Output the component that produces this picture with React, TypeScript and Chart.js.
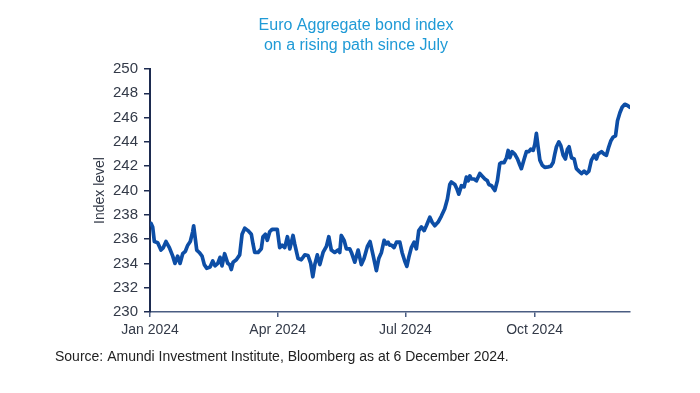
import { useEffect, useRef } from "react";
import { Chart, registerables } from "chart.js";

Chart.register(...registerables);

const titleLines = ["Euro Aggregate bond index", "on a rising path since July"];
const sourceText = "Source: Amundi Investment Institute, Bloomberg as at 6 December 2024.";
const yAxisTitle = "Index level";

const tickDays = [0, 91, 182, 274];
const tickLabels = ["Jan 2024", "Apr 2024", "Jul 2024", "Oct 2024"];

// day of year 2024 (0 = 1 Jan)
const dayOfYear = [
  0.7, 1.9, 3.1, 5.5, 7.8, 9.5, 11.4, 13.8, 16.2, 17.8, 19.7, 21.4, 23.3, 25.2, 26.9, 28.7, 30.4, 31.1,
  32.1, 33.3, 35.1, 37.1, 38.7, 40.4, 42.8, 44.7, 46.3, 48.3, 49.9, 51.3, 53.2, 55.4, 56.8, 57.9, 59.2,
  61.5, 63.9, 65.6, 67.5, 69.8, 72.2, 73.4, 74.6, 77.0, 79.3, 80.5, 82.2, 83.6, 85.3, 87.0, 88.9, 90.7,
  92.4, 94.1, 96.0, 97.9, 99.6, 101.9, 103.1, 105.5, 107.8, 110.3, 112.6, 114.5, 116.0, 117.4, 119.2,
  121.0, 123.3, 125.7, 127.4, 129.2, 131.6, 134.0, 135.2, 136.3, 138.3, 139.9, 142.3, 143.5, 145.9,
  148.3, 150.6, 152.5, 154.9, 156.8, 158.9, 161.3, 163.0, 164.9, 166.8, 168.4, 169.6, 170.8, 172.0,
  173.9, 175.6, 178.0, 179.6, 181.5, 183.0, 184.4, 186.2, 188.2, 189.8, 191.5, 193.4, 195.3, 196.9,
  199.4, 201.0, 202.9, 205.3, 207.6, 210.0, 211.9, 213.6, 214.7, 217.2, 218.8, 220.0, 221.9, 223.8,
  225.4, 226.7, 227.9, 229.0, 230.9, 232.6, 235.0, 236.6, 238.6, 240.4, 241.4, 243.3, 245.7, 247.5,
  249.2, 250.4, 252.3, 254.0, 255.2, 256.4, 258.0, 259.9, 261.8, 263.5, 264.6, 266.6, 268.2, 269.9,
  271.3, 273.0, 274.2, 275.3, 276.5, 277.8, 279.4, 281.3, 283.7, 285.6, 287.2, 288.4, 289.6, 291.3,
  292.7, 294.4, 296.0, 297.4, 298.6, 300.3, 302.2, 303.8, 305.6, 307.4, 309.3, 311.0, 312.7, 314.5,
  316.5, 318.1, 319.3, 321.7, 323.6, 325.2, 326.9, 328.4, 330.0, 331.7, 333.1, 334.8, 336.4, 338.3,
  340.2, 341.9,
];

const indexLevel = [
  237.3, 237.0, 235.8, 235.7, 235.1, 235.3, 235.8, 235.3, 234.6, 234.0, 234.6, 234.0, 234.8, 235.0, 235.5, 235.8, 236.6, 237.1,
  236.2, 235.1, 234.9, 234.6, 233.9, 233.6, 233.7, 234.2, 233.8, 234.0, 234.5, 233.8, 234.8, 234.0, 233.9, 233.5, 234.1,
  234.3, 234.7, 236.4, 236.9, 236.7, 236.4, 235.6, 234.9, 234.9, 235.2, 236.2, 236.4, 235.9, 236.6, 236.8, 236.8, 236.8,
  235.3, 235.5, 235.3, 236.2, 235.2, 236.3, 235.6, 234.4, 234.3, 234.7, 234.65, 234.0, 232.9, 233.9, 234.7,
  233.9, 234.9, 235.4, 236.2, 235.1, 234.9, 235.1, 234.9, 236.3, 235.9, 235.2, 235.2, 234.9, 234.1,
  235.1, 233.9, 234.4, 235.4, 235.8, 234.7, 233.4, 234.4, 234.9, 235.9, 235.6, 235.75, 235.5, 235.5,
  235.3, 235.75, 235.75, 234.9, 234.2, 233.75, 234.5, 235.3, 235.75, 235.2, 236.7, 237.0, 236.7, 237.1,
  237.8, 237.4, 237.1, 237.4, 237.9, 238.5, 239.3, 240.5, 240.7, 240.5, 240.1, 239.7, 240.4, 240.3,
  241.1, 240.8, 241.2, 240.95, 240.95, 240.8, 241.4, 241.2, 240.95, 240.8, 240.5, 240.4, 240.0, 240.8,
  242.2, 242.3, 242.3, 242.7, 243.3, 242.7, 243.2, 243.0, 242.6, 242.1, 241.8, 242.6, 243.2, 243.2,
  243.4, 243.3, 243.8, 244.7, 243.6, 242.5, 242.1, 241.9, 241.95, 242.0, 242.3, 243.0, 243.6, 244.0,
  243.7, 242.9, 242.6, 243.4, 243.6, 242.7, 242.6, 241.8, 241.6, 241.4, 241.6, 241.4, 241.6, 242.5,
  242.9, 242.6, 243.0, 243.2, 243.0, 242.9, 243.6, 244.1, 244.4, 244.5, 245.75, 246.4, 246.85, 247.1,
  247.0, 246.85,
];

const FONT = "'Liberation Sans', Arial, Helvetica, sans-serif";
const LABEL_COLOR = "#333a48";
const Y_AXIS_COLOR = "#1d2b50";
const X_AXIS_COLOR = "#4a5d82";

export default function App() {
  const canvasRef = useRef<HTMLCanvasElement | null>(null);

  useEffect(() => {
    if (!canvasRef.current) return;
    const points = dayOfYear.map((d, i) => ({ x: d, y: indexLevel[i] }));
    const chart = new Chart(canvasRef.current, {
      type: "line",
      data: {
        datasets: [
          {
            data: points,
            borderColor: "#0d4ea6",
            borderWidth: 3.7,
            pointRadius: 0,
            tension: 0,
            borderJoinStyle: "round",
            borderCapStyle: "round",
          },
        ],
      },
      options: {
        animation: false,
        responsive: false,
        layout: { padding: { left: 55, right: 43, top: 0, bottom: 0 } },
        plugins: {
          legend: { display: false },
          tooltip: { enabled: false },
          title: {
            display: true,
            text: titleLines,
            color: "#1f9ad6",
            font: { family: FONT, size: 16, weight: "normal", lineHeight: 1.22 },
            padding: { top: 16, bottom: 14 },
          },
          subtitle: {
            display: true,
            text: sourceText,
            position: "bottom",
            align: "start",
            color: "#222222",
            font: { family: FONT, size: 14, weight: "normal", lineHeight: 1.2 },
            padding: { top: 11.6, bottom: 27.6 },
          },
        },
        scales: {
          x: {
            type: "linear",
            min: 0,
            max: 342,
            afterBuildTicks: (s: any) => {
              s.ticks = tickDays.map((v) => ({ value: v }));
            },
            afterFit: (s: any) => {
              s.height = 25;
            },
            ticks: {
              autoSkip: false,
              maxRotation: 0,
              padding: 5,
              color: LABEL_COLOR,
              font: { family: FONT, size: 14 },
              callback: (v: any) => {
                const i = tickDays.indexOf(Number(v));
                return i >= 0 ? tickLabels[i] : "";
              },
            },
            grid: { drawOnChartArea: false, drawTicks: true, tickLength: 5, color: X_AXIS_COLOR, lineWidth: 1.5 },
            border: { display: true, color: X_AXIS_COLOR, width: 1.5 },
          },
          y: {
            min: 230,
            max: 250,
            afterFit: (s: any) => {
              s.width = 95;
            },
            ticks: {
              stepSize: 2,
              padding: 6,
              color: LABEL_COLOR,
              font: { family: FONT, size: 15 },
            },
            title: {
              display: true,
              text: yAxisTitle,
              color: LABEL_COLOR,
              font: { family: FONT, size: 14 },
              padding: { top: 37, bottom: 0 },
            },
            grid: { drawOnChartArea: false, drawTicks: true, tickLength: 6, color: Y_AXIS_COLOR, lineWidth: 1.5 },
            border: { display: true, color: Y_AXIS_COLOR, width: 2 },
          },
          y2: {
            position: "right",
            display: true,
            ticks: { display: false },
            grid: { display: false },
            border: { display: false },
            afterFit: (s: any) => {
              s.width = 27;
            },
          },
        },
      },
    });
    return () => chart.destroy();
  }, []);

  return (
    <div style={{ position: "fixed", left: 0, top: 0, width: 700, height: 393, background: "#ffffff" }}>
      <canvas ref={canvasRef} width={700} height={393} />
    </div>
  );
}
